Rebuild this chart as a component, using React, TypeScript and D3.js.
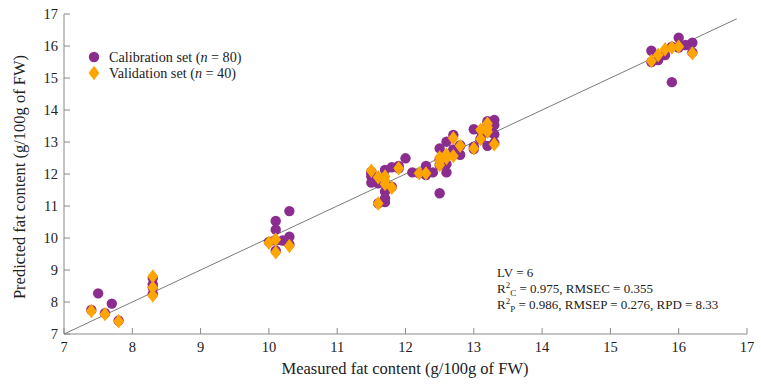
import React from "react";
import * as d3 from "d3";

const calX = [7.4,7.5,7.6,7.7,7.8, 8.3,8.3,8.3,8.3,
  10.0,10.1,10.1,10.1,10.1,10.2,10.3,10.3,10.3,
  11.5,11.5,11.5,11.6,11.6,11.7,11.7,11.7,11.7,11.7,11.8,11.8,11.9,12.0,12.1,12.3,12.3,12.4,12.5,
  12.5,12.5,12.6,12.6,12.6,12.6,12.7,12.7,12.7,12.8,12.8,13.0,13.0,13.1,13.1,13.2,13.2,13.2,13.3,13.3,13.3,13.3,
  15.6,15.7,15.8,15.9,16.0,16.0,16.1,16.2,15.9,16.2,
  11.9,12.2,13.0,12.8,15.6,16.0,13.2,13.1,12.5,11.6,11.5];
const calY = [7.75,8.27,7.65,7.95,7.42, 8.55,8.75,8.25,8.45,
  9.88,10.53,10.26,9.6,9.92,9.92,10.84,10.04,9.8,
  11.92,11.73,12.0,11.71,11.85,12.13,11.45,11.24,11.12,11.7,12.21,11.6,12.25,12.49,12.05,12.25,11.97,12.05,11.40,
  12.80,12.45,13.01,12.56,12.31,12.05,12.77,13.22,12.6,12.6,12.9,13.40,12.85,13.1,13.35,13.65,12.88,13.3,13.69,13.53,13.24,12.97,
  15.85,15.56,15.72,15.98,16.26,15.95,16.03,16.1,14.87,15.8,
  12.18,12.02,12.78,12.88,15.5,15.98,13.58,13.08,12.28,11.08,12.07];

const valX = [7.4,7.6,7.8, 8.3,8.3,8.3,
  10.0,10.1,10.1,10.3,
  11.5,11.6,11.6,11.7,11.7,11.8,11.9,12.2,12.3,11.7,
  12.5,12.5,12.6,12.7,12.7,12.8,13.0,13.1,13.1,13.2,13.2,13.3,12.6,13.2,12.5,
  15.6,15.7,15.8,15.9,16.0,16.2];
const valY = [7.72,7.62,7.4, 8.8,8.45,8.2,
  9.85,9.95,9.55,9.75,
  12.1,11.9,11.08,11.92,11.69,11.57,12.18,12.02,12.02,11.8,
  12.52,12.28,12.5,12.56,13.12,12.88,12.8,13.38,13.09,13.58,13.32,12.93,12.6,13.45,12.4,
  15.53,15.72,15.9,15.95,15.98,15.77];

const xTicks = [7,8,9,10,11,12,13,14,15,16,17];
const yTicks = [7,8,9,10,11,12,13,14,15,16,17];
const fitLine = [7, 16.85];

const FONT = "'Palatino Linotype','Book Antiqua',Palatino,'Liberation Serif',serif";
const PURPLE = "#8B2D8E";
const ORANGE = "#FFA500";
const AXIS = "#8a8a8a";

export default function App() {
  const x = d3.scaleLinear().domain([7, 17]).range([64, 747]);
  const y = d3.scaleLinear().domain([7, 17]).range([334, 14]);
  const cal = calX.map((v, i) => [v, calY[i]]);
  const val = valX.map((v, i) => [v, valY[i]]);
  const diamond = (cx: number, cy: number) => {
    const w = 5.4, h = 7.2;
    return `M${cx},${cy - h}L${cx + w},${cy}L${cx},${cy + h}L${cx - w},${cy}Z`;
  };
  const line = d3.line<number>().x((d) => x(d)).y((d) => y(d));
  return (
    <svg width={761} height={387} style={{ position: "absolute", left: 0, top: 0, background: "#fff" }} fontFamily={FONT}>
      <line x1={x(7)} x2={x(7)} y1={y(17)} y2={y(7)} stroke={AXIS} strokeWidth={1} />
      <line x1={x(7)} x2={x(17)} y1={y(7)} y2={y(7)} stroke={AXIS} strokeWidth={1} />
      {yTicks.map((t) => (
        <g key={"y" + t}>
          <line x1={x(7)} x2={x(7) + 6} y1={y(t)} y2={y(t)} stroke={AXIS} />
          <text x={x(7) - 6} y={y(t) + 5} textAnchor="end" fontSize={14.5} fill="#222">{t}</text>
        </g>
      ))}
      {xTicks.map((t) => (
        <g key={"x" + t}>
          <line x1={x(t)} x2={x(t)} y1={y(7)} y2={y(7) - 6} stroke={AXIS} />
          <text x={x(t)} y={y(7) + 18} textAnchor="middle" fontSize={14.5} fill="#222">{t}</text>
        </g>
      ))}
      <path d={line(fitLine) || ""} stroke="#7a7a7a" strokeWidth={1} fill="none" />
      {cal.map((d, i) => (
        <circle key={"c" + i} cx={x(d[0])} cy={y(d[1])} r={5.2} fill={PURPLE} />
      ))}
      {val.map((d, i) => (
        <path key={"v" + i} d={diamond(x(d[0]), y(d[1]))} fill={ORANGE} />
      ))}
      <circle cx={94} cy={57} r={5.2} fill={PURPLE} />
      <text x={109} y={62} fontSize={14.2} fill="#222">Calibration set (<tspan fontStyle="italic">n</tspan> = 80)</text>
      <path d={diamond(94, 73)} fill={ORANGE} />
      <text x={109} y={78} fontSize={14.2} fill="#222">Validation set (<tspan fontStyle="italic">n</tspan> = 40)</text>
      <text x={497} y={277} fontSize={13} fill="#222">LV = 6</text>
      <text x={497} y={293} fontSize={13} fill="#222">R<tspan dy={-5} fontSize={9}>2</tspan><tspan dy={8} fontSize={9}>C</tspan><tspan dy={-3}> = 0.975, RMSEC = 0.355</tspan></text>
      <text x={497} y={309} fontSize={13} fill="#222">R<tspan dy={-5} fontSize={9}>2</tspan><tspan dy={8} fontSize={9}>P</tspan><tspan dy={-3}> = 0.986, RMSEP = 0.276, RPD = 8.33</tspan></text>
      <text x={405} y={374} textAnchor="middle" fontSize={16.5} fill="#222">Measured fat content (g/100g of FW)</text>
      <text transform={`translate(25,177) rotate(-90)`} textAnchor="middle" fontSize={16.5} fill="#222">Predicted fat content (g/100g of FW)</text>
    </svg>
  );
}
